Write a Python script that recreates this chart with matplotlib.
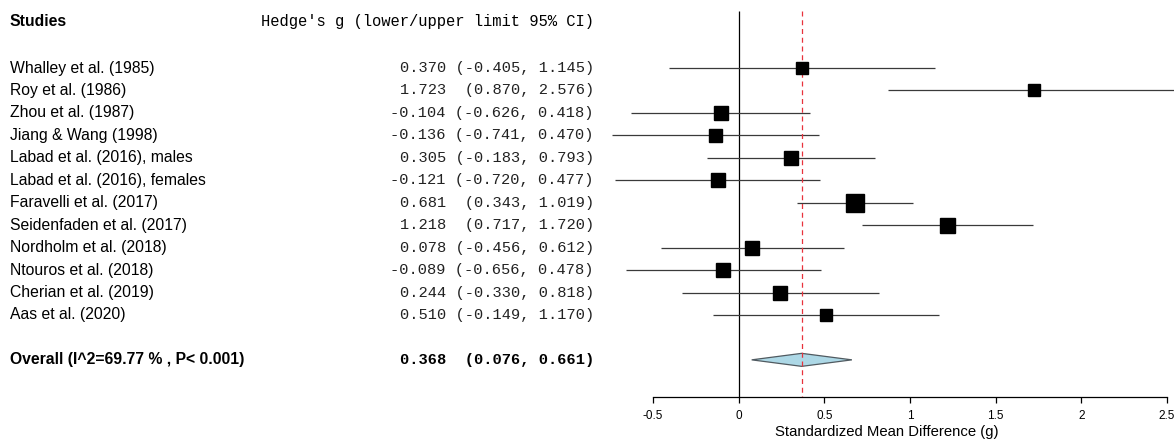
import matplotlib.pyplot as plt
import matplotlib.transforms as mtransforms
from matplotlib.patches import Polygon

studies = ["Whalley et al. (1985)", "Roy et al. (1986)", "Zhou et al. (1987)",
           "Jiang & Wang (1998)", "Labad et al. (2016), males",
           "Labad et al. (2016), females", "Faravelli et al. (2017)",
           "Seidenfaden et al. (2017)", "Nordholm et al. (2018)",
           "Ntouros et al. (2018)", "Cherian et al. (2019)", "Aas et al. (2020)"]
g = [0.370, 1.723, -0.104, -0.136, 0.305, -0.121, 0.681, 1.218, 0.078, -0.089, 0.244, 0.510]
lower = [-0.405, 0.870, -0.626, -0.741, -0.183, -0.720, 0.343, 0.717, -0.456, -0.656, -0.330, -0.149]
upper = [1.145, 2.576, 0.418, 0.470, 0.793, 0.477, 1.019, 1.720, 0.612, 0.478, 0.818, 1.170]
# relative square size (study weight)
weights = [11.5, 11.3, 13.7, 13.0, 14.3, 13.3, 17.3, 15.0, 13.3, 13.3, 13.3, 12.3]

overall_label = "Overall (I^2=69.77 % , P< 0.001)"
overall_g = 0.368
overall_lower = 0.076
overall_upper = 0.661

xticks = [-0.5, 0, 0.5, 1, 1.5, 2, 2.5]
xtick_labels = ["-0.5", "0", "0.5", "1", "1.5", "2", "2.5"]

W, H = 1174, 442
SANS = "Liberation Sans"
MONO = "Liberation Mono"


def fmt_ci(est, lo, hi):
    return f"{est:.3f} " + f"({lo:.3f}, {hi:.3f})".rjust(15)


fig = plt.figure(figsize=(W / 100, H / 100), dpi=100)
ax = fig.add_axes([600 / W, 45 / H, 574 / W, 397 / H])

px_per_unit = 171.4
ax.set_xlim(-0.5 - 53 / px_per_unit, 2.5 + 7 / px_per_unit)
row_px = 22.45
ax.set_ylim(1 + (397 - 68) / row_px, 1 - 68 / row_px)

rows = list(range(1, len(studies) + 1))
overall_row = len(studies) + 2
header_row = -1.05
top = -1.54

ax.vlines(0, top, ax.get_ylim()[0], color="black", lw=0.9)
ax.vlines(overall_g, top, ax.get_ylim()[0], color="#e8323c", lw=0.9,
          linestyles=(0, (4, 3)), zorder=4)

ax.hlines(rows, lower, upper, color="#3a3a3a", lw=0.9, zorder=2)
for r, est, w in zip(rows, g, weights):
    ax.plot(est, r, marker="s", ms=w * 0.72, color="black", mec="black", zorder=5)

dh = 0.29
diamond = Polygon([(overall_lower, overall_row), (overall_g, overall_row - dh),
                   (overall_upper, overall_row), (overall_g, overall_row + dh)],
                  closed=True, facecolor="#add8e6", edgecolor="#505a60", lw=0.9, zorder=3)
ax.add_patch(diamond)

for s in ["top", "right", "left"]:
    ax.spines[s].set_visible(False)
ax.spines["bottom"].set_bounds(-0.5, 2.5)
ax.spines["bottom"].set_linewidth(0.9)
ax.set_yticks([])
ax.set_xticks(xticks)
ax.set_xticklabels(xtick_labels, fontsize=8.5, family=SANS)
ax.tick_params(axis="x", length=4.5, width=0.9, pad=5)
ax.set_xlabel("Standardized Mean Difference (g)", fontsize=10.7, family=SANS, labelpad=2)

# text columns on the left
tr = mtransforms.blended_transform_factory(fig.transFigure, ax.transData)
name_x = 10 / W
num_x = 594 / W
ax.text(name_x, header_row, "Studies", transform=tr, ha="left", va="center",
        fontsize=11.3, family=SANS, fontweight="bold", clip_on=False)
ax.text(num_x, header_row, "Hedge's g (lower/upper limit 95% CI)", transform=tr,
        ha="right", va="center", fontsize=11.2, family=MONO, clip_on=False)
for r, name, est, lo, hi in zip(rows, studies, g, lower, upper):
    ax.text(name_x, r, name, transform=tr, ha="left", va="center",
            fontsize=11.3, family=SANS, clip_on=False)
    ax.text(num_x, r, fmt_ci(est, lo, hi), transform=tr, ha="right", va="center",
            fontsize=11.1, family=MONO, color="#222222", clip_on=False)
ax.text(name_x, overall_row, overall_label, transform=tr, ha="left", va="center",
        fontsize=11.3, family=SANS, fontweight="bold", clip_on=False)
ax.text(num_x, overall_row, fmt_ci(overall_g, overall_lower, overall_upper), transform=tr,
        ha="right", va="center", fontsize=11.1, family=MONO, fontweight="bold", clip_on=False)

fig.savefig("out.png", dpi=100)
